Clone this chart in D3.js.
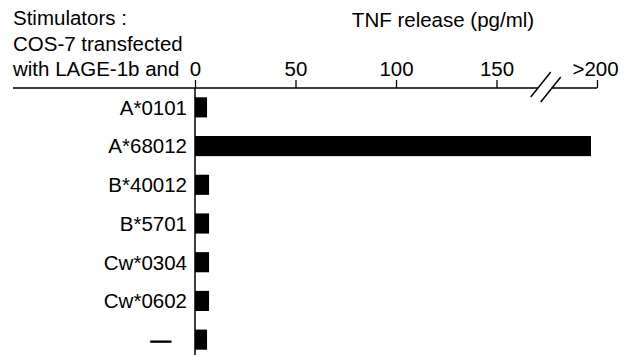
<!DOCTYPE html>
<html>
<head>
<meta charset="utf-8">
<script src="https://cdn.jsdelivr.net/npm/d3@7"></script>
<style>
  html, body { margin: 0; padding: 0; background: #fff; }
  svg { display: block; }
  text { font-family: "Liberation Sans", Arial, Helvetica, sans-serif; fill: #000; }
</style>
</head>
<body>
<svg id="chart" width="626" height="355"></svg>
<script>
// Stimulator cells and their TNF release (pg/ml)
const stimulators = ["A*0101", "A*68012", "B*40012", "B*5701", "Cw*0304", "Cw*0602", "\u2014"];
const tnfRelease = [6, 197, 7, 7, 7, 7, 6];
const tickValues = [0, 50, 100, 150, 200];
const tickLabels = ["0", "50", "100", "150", ">200"];
const headerLines = ["Stimulators :", "COS-7 transfected", "with LAGE-1b and"];
const axisTitle = "TNF release (pg/ml)";
const breakValue = 175;

const svg = d3.select("#chart");
const axisY = 88;
const fontSize = 20.5;

const x = d3.scaleLinear().domain([0, 200]).range([195, 597]);
const y = d3.scaleBand().domain(stimulators).range([88, 359])
  .paddingInner(0.48).paddingOuter(0.24);

// Header text at top left
svg.append("g").selectAll("text").data(headerLines).join("text")
  .attr("x", 13)
  .attr("y", (d, i) => 25 + i * 25.5)
  .attr("font-size", fontSize)
  .text(d => d);

// Axis title
svg.append("text")
  .attr("x", 443).attr("y", 27)
  .attr("text-anchor", "middle")
  .attr("font-size", fontSize)
  .text(axisTitle);

// Top axis ticks and labels
const axis = d3.axisTop(x)
  .tickValues(tickValues)
  .tickFormat((d, i) => tickLabels[i])
  .tickSize(8)
  .tickPadding(4);
const gAxis = svg.append("g").attr("transform", `translate(0,${axisY})`).call(axis);
gAxis.select(".domain").remove();
gAxis.selectAll(".tick line").attr("stroke", "#000").attr("stroke-width", 1.3);
gAxis.selectAll(".tick text")
  .attr("font-size", fontSize)
  .attr("font-family", "'Liberation Sans', Arial, Helvetica, sans-serif")
  .attr("fill", "#000");
gAxis.selectAll(".tick").filter(d => d === 200).select("text").attr("dx", -2);

// Horizontal axis line with a break between 150 and 200
const bx = x(breakValue);
const axisLine = svg.append("g").attr("stroke", "#000").attr("stroke-width", 1.5).attr("fill", "none");
axisLine.append("line").attr("x1", 13).attr("x2", bx - 9).attr("y1", axisY).attr("y2", axisY);
axisLine.append("line").attr("x1", bx + 5).attr("x2", x(200)).attr("y1", axisY).attr("y2", axisY);
axisLine.append("line").attr("x1", bx - 16).attr("y1", axisY + 9).attr("x2", bx + 4).attr("y2", axisY - 16);
axisLine.append("line").attr("x1", bx - 6).attr("y1", axisY + 14).attr("x2", bx + 14).attr("y2", axisY - 11);

// Vertical baseline at zero
svg.append("line")
  .attr("x1", x(0)).attr("x2", x(0))
  .attr("y1", axisY).attr("y2", 355)
  .attr("stroke", "#000").attr("stroke-width", 1.5);

// Bars
svg.append("g").selectAll("rect").data(stimulators).join("rect")
  .attr("x", x(0))
  .attr("y", d => y(d))
  .attr("width", (d, i) => x(tnfRelease[i]) - x(0))
  .attr("height", y.bandwidth())
  .attr("fill", "#000");

// Category labels (the control row is a dash, drawn slightly heavier)
svg.append("g").selectAll("text").data(stimulators).join("text")
  .attr("x", d => d === "\u2014" ? 171 : 187)
  .attr("y", d => y(d) + y.bandwidth() / 2)
  .attr("dy", "0.36em")
  .attr("text-anchor", "end")
  .attr("font-size", fontSize)
  .attr("stroke", d => d === "\u2014" ? "#000" : "none")
  .attr("stroke-width", 0.8)
  .text(d => d);
</script>
</body>
</html>
